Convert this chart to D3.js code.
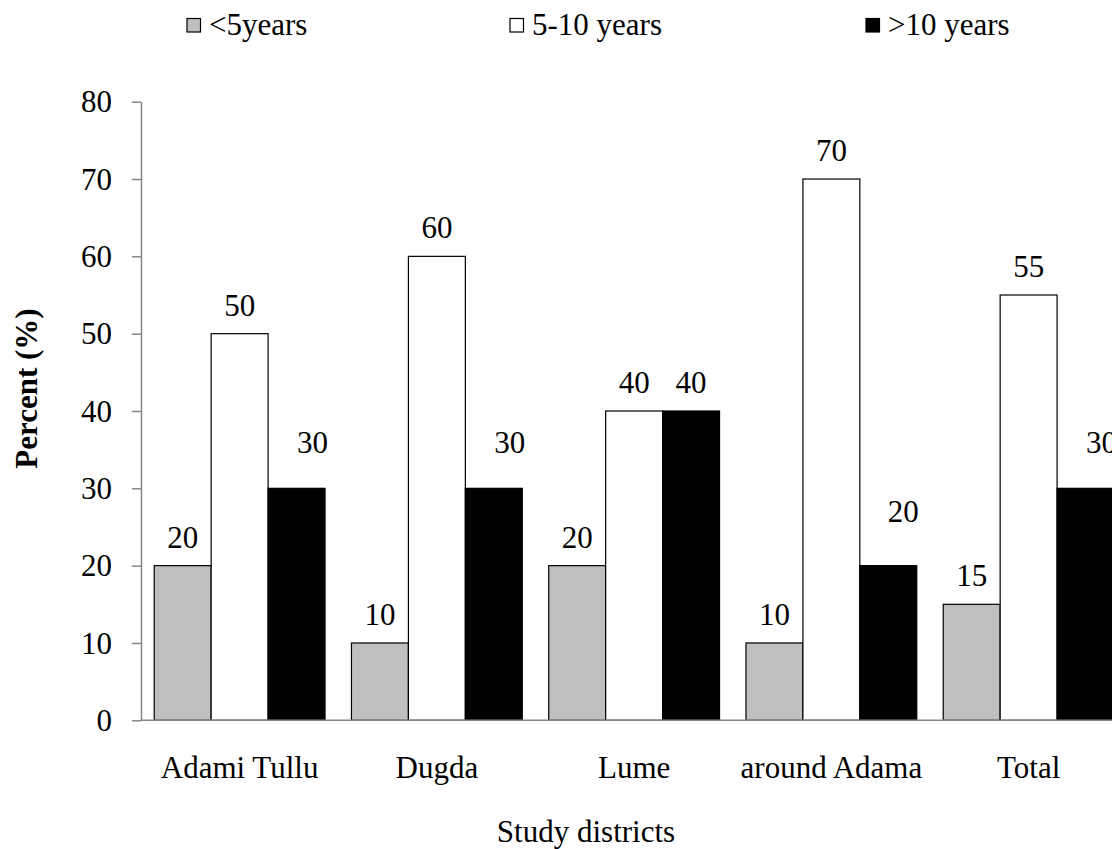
<!DOCTYPE html>
<html>
<head>
<meta charset="utf-8">
<script src="https://cdn.jsdelivr.net/npm/d3@7"></script>
<style>
  html, body { margin: 0; padding: 0; background: #fff; }
  svg { display: block; }
  text { font-family: "Liberation Serif", "Times New Roman", serif; fill: #000; }
</style>
</head>
<body>
<svg id="chart" width="1112" height="849"></svg>
<script>
// ---- data ----
const categories = ["Adami Tullu", "Dugda", "Lume", "around Adama", "Total"];
const seriesNames = ["<5years", "5-10 years", ">10 years"];
const lessThan5 = [20, 10, 20, 10, 15];
const from5to10 = [50, 60, 40, 70, 55];
const moreThan10 = [30, 30, 40, 20, 30];
const yTicks = [0, 10, 20, 30, 40, 50, 60, 70, 80];

// ---- styling / layout (not data) ----
const fills = ["#bfbfbf", "#ffffff", "#000000"];
// manual label nudges used in the original for the ">10 years" labels
const labelNudgeX = [[0,0,0,0,0],[0,0,0,0,0],[16,16,0,15,16]];
const labelNudgeY = [[0,0,0,0,0],[0,0,0,0,0],[-17,-17,0,-26,-17]];

const seriesValues = [lessThan5, from5to10, moreThan10];
const svg = d3.select("#chart");
const FS = 31;

const x0 = d3.scaleBand().domain(categories).range([141, 1127.25]).paddingInner(0.134).paddingOuter(0.067);
const x1 = d3.scaleBand().domain(seriesNames).range([0, x0.bandwidth()]).padding(0);
const y = d3.scaleLinear().domain([0, 80]).range([720.3, 101.7]);

// bars
seriesNames.forEach((s, si) => {
  const g = svg.append("g");
  g.selectAll("rect").data(seriesValues[si]).enter().append("rect")
    .attr("x", (d, i) => x0(categories[i]) + x1(s))
    .attr("y", d => y(d))
    .attr("width", x1.bandwidth())
    .attr("height", d => y(0) - y(d))
    .attr("fill", fills[si])
    .attr("stroke", "#000")
    .attr("stroke-width", 1.2);
  g.selectAll("text").data(seriesValues[si]).enter().append("text")
    .attr("x", (d, i) => x0(categories[i]) + x1(s) + x1.bandwidth() / 2 + labelNudgeX[si][i])
    .attr("y", (d, i) => y(d) - 18 + labelNudgeY[si][i])
    .attr("text-anchor", "middle")
    .style("font-size", FS + "px")
    .text(d => d);
});

// y axis
const yAxis = d3.axisLeft(y).tickValues(yTicks).tickSizeInner(9).tickSizeOuter(0).tickPadding(20);
const ya = svg.append("g").attr("transform", "translate(141,0)").call(yAxis);
ya.select(".domain").attr("stroke", "#868686").attr("stroke-width", 1.5);
ya.selectAll(".tick line").attr("stroke", "#868686").attr("stroke-width", 1.5);
ya.selectAll(".tick text").style("font-size", FS + "px")
  .style("font-family", "'Liberation Serif', 'Times New Roman', serif")
  .attr("fill", "#000").attr("dy", "0.33em");

// x axis (baseline)
const xAxis = d3.axisBottom(x0).tickSize(0).tickPadding(0);
const xa = svg.append("g").attr("transform", `translate(0,${y(0)})`).call(xAxis);
xa.select(".domain").attr("d", `M141,0H1112`).attr("stroke", "#868686").attr("stroke-width", 1.5);
xa.selectAll(".tick text").style("font-size", FS + "px")
  .style("font-family", "'Liberation Serif', 'Times New Roman', serif")
  .attr("fill", "#000").attr("y", 0).attr("dy", 0)
  .attr("transform", "translate(0,58)");

// axis titles
svg.append("text")
  .attr("transform", "translate(37,388.5) rotate(-90)")
  .attr("text-anchor", "middle")
  .style("font-size", FS + "px").style("font-weight", "bold")
  .text("Percent (%)");
svg.append("text")
  .attr("x", 586).attr("y", 842)
  .attr("text-anchor", "middle")
  .style("font-size", FS + "px")
  .text("Study districts");

// legend
const legendX = [187, 510, 866];
const leg = svg.append("g");
seriesNames.forEach((s, i) => {
  leg.append("rect").attr("x", legendX[i]).attr("y", 18.5).attr("width", 13.5).attr("height", 13.5)
    .attr("fill", fills[i]).attr("stroke", "#000").attr("stroke-width", 1.2);
  leg.append("text").attr("x", legendX[i] + 22).attr("y", 35)
    .style("font-size", FS + "px").text(s);
});
</script>
</body>
</html>
